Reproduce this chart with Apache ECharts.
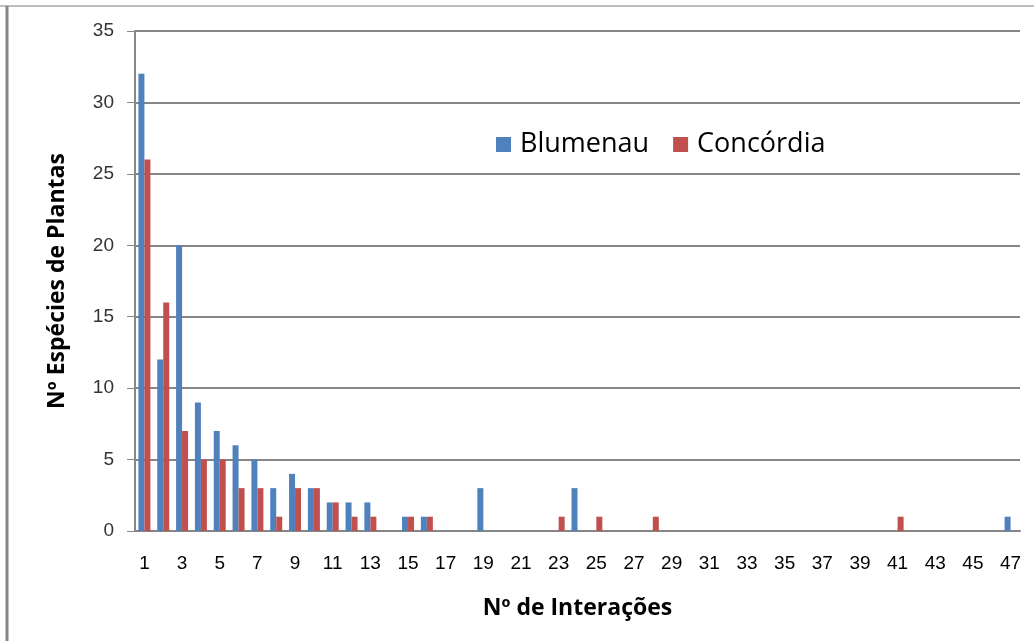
<!DOCTYPE html>
<html>
<head>
<meta charset="utf-8">
<script src="https://cdn.jsdelivr.net/npm/echarts@6/dist/echarts.min.js"></script>
<style>
  html, body { margin: 0; padding: 0; background: #fff; }
  #chart { width: 1034px; height: 641px; }
</style>
</head>
<body>
<div id="chart"></div>
<script>
// Nº de Interações 1..47
const categories = Array.from({ length: 47 }, (_, i) => String(i + 1))

// Nº Espécies de Plantas por nº de interações
const blumenau = [32, 12, 20, 9, 7, 6, 5, 3, 4, 3, 2, 2, 2, 0, 1, 1, 0, 0, 3, 0,
  0, 0, 0, 3, 0, 0, 0, 0, 0, 0, 0, 0, 0, 0, 0, 0, 0, 0, 0, 0,
  0, 0, 0, 0, 0, 0, 1]
const concordia = [26, 16, 7, 5, 5, 3, 3, 1, 3, 3, 2, 1, 1, 0, 1, 1, 0, 0, 0, 0,
  0, 0, 1, 0, 1, 0, 0, 1, 0, 0, 0, 0, 0, 0, 0, 0, 0, 0, 0, 0,
  1, 0, 0, 0, 0, 0, 0]

const chart = echarts.init(document.getElementById('chart'))

const labelFont = '"Liberation Sans", Arial, sans-serif'
const titleFont = '"Open Sans", "Noto Sans", "DejaVu Sans", sans-serif'

const option = {
  animation: false,
  backgroundColor: '#fff',
  legend: {
    data: ['Blumenau', 'Concórdia'],
    left: 491,
    top: 126,
    itemWidth: 15,
    itemHeight: 15,
    itemGap: 24,
    icon: 'rect',
    textStyle: { fontSize: 27, color: '#000', fontFamily: titleFont, padding: [0, 0, 0, 4] }
  },
  grid: { left: 135, right: 14, top: 31, bottom: 110 },
  xAxis: {
    type: 'category',
    data: categories,
    name: 'Nº de Interações',
    nameLocation: 'middle',
    nameGap: 66,
    nameTextStyle: { fontSize: 23, fontWeight: 'bold', color: '#000', fontFamily: titleFont },
    axisLine: { lineStyle: { color: '#868686', width: 2 } },
    axisTick: { interval: 0, length: 7, lineStyle: { color: '#868686', width: 2 } },
    axisLabel: { interval: 1, margin: 23, fontSize: 19, color: '#000', fontFamily: labelFont }
  },
  yAxis: {
    type: 'value',
    min: 0,
    max: 35,
    interval: 5,
    name: 'Nº Espécies de Plantas',
    nameLocation: 'middle',
    nameGap: 66,
    nameTextStyle: { fontSize: 23, fontWeight: 'bold', color: '#000', fontFamily: titleFont },
    axisLine: { show: true, lineStyle: { color: '#868686', width: 2 } },
    axisTick: { show: true, length: 8, lineStyle: { color: '#868686' } },
    axisLabel: { margin: 21, fontSize: 19, color: '#333', fontFamily: labelFont },
    splitLine: { lineStyle: { color: '#868686', width: 2 } }
  },
  series: [
    {
      name: 'Blumenau',
      type: 'bar',
      data: blumenau,
      barWidth: 6,
      barGap: '0%',
      itemStyle: { color: '#4F81BD' }
    },
    {
      name: 'Concórdia',
      type: 'bar',
      data: concordia,
      barWidth: 6,
      itemStyle: { color: '#C0504D' }
    }
  ],
  graphic: [
    { type: 'line', shape: { x1: 0, y1: 6, x2: 1034, y2: 6 }, style: { stroke: '#bdbdbd', lineWidth: 2 } },
    { type: 'line', shape: { x1: 7, y1: 6, x2: 7, y2: 641 }, style: { stroke: '#868686', lineWidth: 3 } }
  ]
}

chart.setOption(option)
</script>
</body>
</html>
